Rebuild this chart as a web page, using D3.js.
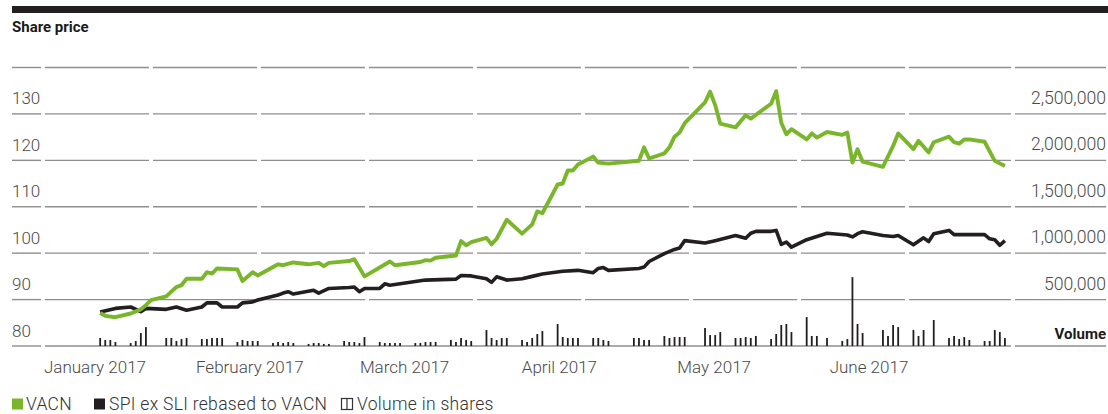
<!DOCTYPE html>
<html><head><meta charset="utf-8">
<script src="https://cdn.jsdelivr.net/npm/d3@7"></script>
<style>
html,body{margin:0;padding:0;background:#fff;}
svg{display:block;font-family:Roboto,"Noto Sans",sans-serif;}
</style></head>
<body><svg id="c" width="1108" height="414"></svg>
<script>
// ---------- data ----------
const priceTicks = [80, 90, 100, 110, 120, 130];
const volumeTicks = [500000, 1000000, 1500000, 2000000, 2500000];
const monthLabels = ["January 2017","February 2017","March 2017","April 2017","May 2017","June 2017"];

const vacnDates = ["01-03","01-04","01-06","01-09","01-11","01-12","01-13","01-16","01-18","01-19","01-20","01-23","01-24","01-25","01-26","01-30","01-31","02-02","02-03","02-07","02-08","02-10","02-13","02-15","02-16","02-17","02-21","02-22","02-24","02-27","03-01","03-02","03-07","03-08","03-09","03-10","03-14","03-15","03-16","03-17","03-20","03-21","03-22","03-24","03-27","03-29","03-30","03-31","04-03","04-04","04-05","04-06","04-07","04-10","04-11","04-13","04-19","04-20","04-21","04-24","04-25","04-26","04-27","04-28","05-02","05-03","05-04","05-05","05-08","05-10","05-11","05-15","05-16","05-17","05-18","05-19","05-22","05-23","05-24","05-26","05-29","05-30","05-31","06-01","06-02","06-06","06-08","06-09","06-12","06-13","06-15","06-16","06-19","06-20","06-21","06-22","06-23","06-26","06-28","06-30"];
const vacnValues = [87.1,86.5,86.2,87.0,87.9,88.8,89.9,90.7,92.7,93.1,94.5,94.5,95.9,95.6,96.7,96.5,94.0,95.9,95.2,97.6,97.4,98.0,97.6,97.9,97.2,97.9,98.3,98.7,95.0,96.9,98.2,97.4,98.1,98.5,98.4,99.0,99.5,102.6,101.7,102.4,103.3,101.9,103.1,107.2,104.2,106.2,109.0,108.6,114.8,115.0,117.8,117.8,119.1,120.8,119.5,119.3,119.9,122.8,120.4,121.5,122.8,125.1,126.0,128.0,132.5,134.8,131.9,127.9,127.1,129.7,129.0,132.2,134.9,128.1,125.6,126.7,124.5,125.8,124.9,126.1,125.5,126.0,119.5,122.4,119.7,118.6,123.1,125.8,122.4,124.2,121.7,123.9,125.1,123.9,123.6,124.5,124.5,124.0,119.9,118.8];

const spiDates = ["01-03","01-06","01-09","01-11","01-12","01-16","01-18","01-20","01-23","01-24","01-26","01-27","01-30","01-31","02-02","02-03","02-07","02-08","02-09","02-10","02-14","02-15","02-17","02-21","02-22","02-23","02-24","02-27","02-28","03-01","03-03","03-08","03-14","03-15","03-17","03-20","03-21","03-22","03-24","03-27","03-29","03-31","04-04","04-07","04-10","04-11","04-12","04-13","04-19","04-20","04-21","04-24","04-26","04-27","04-28","05-02","05-04","05-08","05-10","05-11","05-12","05-15","05-16","05-17","05-18","05-19","05-22","05-24","05-26","05-30","05-31","06-01","06-02","06-06","06-08","06-09","06-12","06-14","06-15","06-16","06-19","06-20","06-26","06-27","06-28","06-29","06-30"];
const spiValues = [87.3,88.1,88.4,87.4,88.1,87.9,88.4,87.7,88.4,89.3,89.3,88.4,88.4,89.3,89.5,89.9,91.0,91.4,91.7,91.2,92.0,91.4,92.4,92.6,92.7,91.7,92.4,92.4,93.4,93.1,93.4,94.2,94.4,95.2,95.1,94.5,93.7,94.9,94.2,94.5,95.0,95.5,96.1,96.3,95.8,96.7,96.9,96.3,96.7,97.0,98.2,99.9,100.8,101.1,102.7,102.2,102.7,103.8,103.2,104.3,104.7,104.7,104.9,101.9,102.4,101.3,102.9,103.6,104.3,103.9,103.5,104.2,104.6,103.8,103.6,103.8,101.8,103.3,102.5,104.2,104.9,104.0,104.0,103.1,102.9,101.7,102.7];

// volume in thousands of shares, one row per week (Mon..Fri), null = no trading
const volumeWeeks = ["01-02","01-09","01-16","01-23","01-30","02-06","02-13","02-20","02-27","03-06","03-13","03-20","03-27","04-03","04-10","04-17","04-24","05-01","05-08","05-15","05-22","05-29","06-05","06-12","06-19","06-26"];
const volumeThousands = [
 [null,86,65,65,43],[32,54,140,204,null],[86,86,54,75,86],[75,75,86,86,86],[43,65,54,54,54],
 [32,43,32,43,32],[22,32,32,22,22],[54,43,43,32,97],[43,32,32,32,32],[32,32,43,43,43],
 [65,43,86,65,54],[172,86,65,86,86],[65,43,86,129,161],[237,97,86,86,86],[86,86,65,54,null],
 [null,86,86,65,65],[108,86,97,97,97],[null,194,118,118,150],[86,86,97,86,108],[75,129,226,237,150],
 [312,108,108,null,86],[54,75,742,237,140],[null,172,108,226,204],[172,108,172,null,280],[86,108,75,97,65],
 [54,54,172,150,86]
];

// ---------- build ----------
const parse = s => new Date(Date.UTC(2017, +s.slice(0,2)-1, +s.slice(3,5)));
const vacn = vacnDates.map((d,i)=>({date:parse(d), v:vacnValues[i]}));
const spi = spiDates.map((d,i)=>({date:parse(d), v:spiValues[i]}));
const vol = [];
volumeWeeks.forEach((w,i)=>{
  const mon = parse(w);
  volumeThousands[i].forEach((v,k)=>{
    if (v!=null) vol.push({date:new Date(mon.getTime()+k*864e5), v:v*1000});
  });
});

const GREEN = "#7ab62c", DARK = "#231f20", GRID = "#8e8e8e", LABEL = "#4a4a4a";
const svg = d3.select("#c");

const x = d3.scaleUtc().domain([new Date(Date.UTC(2017,0,1)), new Date(Date.UTC(2017,6,1))]).range([90, 1010]);
const y = d3.scaleLinear().domain([80, 140]).range([346, 67.5]);
const yv = d3.scaleLinear().domain([0, 3000000]).range([346, 67.5]);
const xm = d3.scalePoint().domain(monthLabels).range([95, 869]);

// top rule
svg.append("rect").attr("x",12).attr("y",6).attr("width",1096).attr("height",7).attr("fill",DARK);
svg.append("text").attr("x",12).attr("y",32).attr("font-size",15).attr("font-weight",700)
  .attr("fill","#1a1a1a").text("Share price");

// gridlines (segmented)
const gridVals = d3.range(90, 141, 10);
const segStarts = d3.range(45, 1000, 108);
const segs = [[12,41]].concat(segStarts.map(s=>[s, Math.min(s+104, 1011)])).concat([[1015,1106]]);
const gg = svg.append("g");
gridVals.forEach(v=>{
  segs.forEach(s=>{
    gg.append("line").attr("x1",s[0]).attr("x2",s[1]).attr("y1",y(v)).attr("y2",y(v))
      .attr("stroke",GRID).attr("stroke-width",1.4);
  });
});
// baseline
[[12,41],[45,1011],[1015,1106]].forEach(s=>{
  gg.append("line").attr("x1",s[0]).attr("x2",s[1]).attr("y1",y(80)).attr("y2",y(80))
    .attr("stroke",GRID).attr("stroke-width",1.4);
});

// left axis labels
svg.append("g").selectAll("text").data(priceTicks).join("text")
  .attr("x",12).attr("y",d=>y(d)-9.5).attr("font-size",17).attr("font-weight",300)
  .attr("fill",LABEL).text(d=>d);
// right axis labels
svg.append("g").selectAll("text").data(volumeTicks).join("text")
  .attr("x",1106).attr("y",d=>yv(d)-10).attr("text-anchor","end").attr("font-size",17.6).attr("font-weight",300)
  .attr("fill",LABEL).text(d=>d3.format(",")(d));
svg.append("text").attr("x",1106).attr("y",yv(0)-7).attr("text-anchor","end")
  .attr("font-size",15).attr("font-weight",700).attr("fill","#1a1a1a").text("Volume");

// volume bars
svg.append("g").selectAll("rect").data(vol).join("rect")
  .attr("x",d=>x(d.date)-0.9).attr("width",1.8)
  .attr("y",d=>yv(d.v)).attr("height",d=>yv(0)-yv(d.v)).attr("fill",DARK);

// lines
const line = d3.line().x(d=>x(d.date)).y(d=>y(d.v)).curve(d3.curveLinear);
svg.append("path").datum(spi).attr("d",line).attr("fill","none").attr("stroke",DARK)
  .attr("stroke-width",3.6).attr("stroke-linejoin","round");
svg.append("path").datum(vacn).attr("d",line).attr("fill","none").attr("stroke",GREEN)
  .attr("stroke-width",3.9).attr("stroke-linejoin","round");

// month labels
svg.append("g").selectAll("text").data(monthLabels).join("text")
  .attr("x",d=>xm(d)).attr("y",373).attr("text-anchor","middle").attr("font-size",17).attr("font-weight",300)
  .attr("fill",LABEL).text(d=>d);

// legend
const lg = svg.append("g").attr("font-size",17.5).attr("font-weight",300).attr("fill","#333").attr("letter-spacing",0.3);
lg.append("rect").attr("x",12).attr("y",398.5).attr("width",11).attr("height",11).attr("fill",GREEN);
lg.append("text").attr("x",26).attr("y",409.5).text("VACN");
lg.append("rect").attr("x",94).attr("y",398.5).attr("width",11).attr("height",11).attr("fill",DARK);
lg.append("text").attr("x",109).attr("y",409.5).text("SPI ex SLI rebased to VACN");
lg.append("rect").attr("x",341.5).attr("y",398.5).attr("width",11).attr("height",11).attr("fill","none").attr("stroke","#333").attr("stroke-width",1.2);
lg.append("line").attr("x1",347).attr("x2",347).attr("y1",398.5).attr("y2",409.5).attr("stroke","#333").attr("stroke-width",1.2);
lg.append("text").attr("x",357).attr("y",409.5).text("Volume in shares");
</script></body></html>
